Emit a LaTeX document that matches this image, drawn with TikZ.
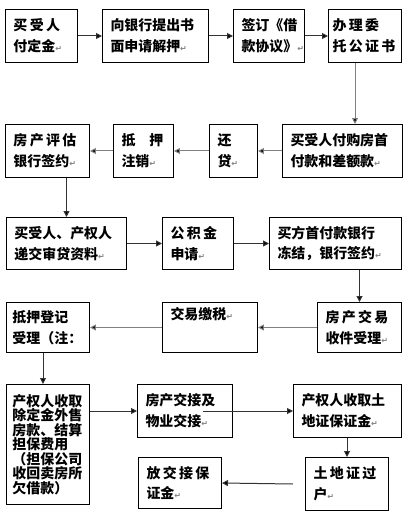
\documentclass[tikz,border=0pt]{standalone}
\usepackage{xcolor}
\usepackage{tikz}
\usetikzlibrary{arrows.meta}
\usepackage{fontspec}
\newfontfamily\cjk{Noto Sans CJK SC}
\newfontfamily\dejavu{DejaVu Sans}
\newcommand\parmark{{\dejavu\color{gray}\fontsize{8}{8}\selectfont ↵}}
\tikzset{
  box/.style={draw, line width=1pt, anchor=north west, align=left, inner xsep=8bp, inner ysep=0pt,
    font=\cjk\bfseries\fontsize{14}{21}\selectfont},
  arr/.style={line width=1pt, draw=black!80, -{Triangle[length=6pt,width=6pt,fill=black]}},
  garr/.style={arr, draw=black!50}
}
\begin{document}
\begin{tikzpicture}[x=1bp, y=-1bp]
    \useasboundingbox (0,0) rectangle (405,515);
    \node[box, text width=56bp, minimum height=53bp] (buyer) at (5,9) {买\,受\,人\\付定金\parmark};
    \node[box, text width=90bp, minimum height=53bp] (apply) at (102,9) {向银行提出书\\面申请解押\parmark};
    \node[box, text width=55bp, minimum height=53bp] (loan) at (233,9) {签订《借\\款协议》\parmark};
    \node[box, text width=65bp, inner xsep=4bp, minimum height=53bp] (notary) at (328,9) {办\,理\,委\\托\,公\,证\,书};
    \node[box, text width=68bp, minimum height=53bp] (assess) at (5,124) {房\,产\,评\,估\\银行签约\parmark};
    \node[box, text width=44bp, minimum height=53bp] (cancel) at (113,124) {抵\quad 押\\注销\parmark};
    \node[box, text width=32bp, minimum height=53bp] (repay) at (209,124) {还\\贷\parmark};
    \node[box, text width=104bp, minimum height=53bp] (downpay) at (282,124) {买受人付购房首\\付款和差额款\parmark};
    \node[box, text width=104bp, minimum height=52bp] (docs) at (6,217) {买受人、产权人\\递交审贷资料\parmark};
    \node[box, text width=55bp, minimum height=52bp] (fund) at (162,217) {公\,积\,金\\申请\parmark};
    \node[box, text width=116bp, minimum height=52bp] (freeze) at (269,217) {买方首付款银行\\冻结，银行签约\parmark};
    \node[box, text width=71bp, inner xsep=6bp, minimum height=50bp] (mortgage) at (6,302) {抵押登记\\受理（注：};
    \node[box, text width=79bp, minimum height=50bp] (tax) at (162,302) {交易缴税\parmark\\\strut};
    \node[box, text width=68bp, minimum height=50bp] (receipt) at (317,302) {房\,产\,交\,易\\收件受理\parmark};
    \node[box, text width=71bp, inner xsep=6bp, minimum height=120bp,
      font=\cjk\bfseries\fontsize{14}{13}\selectfont] (seller) at (6,384)
      {产权人收取\\除定金外售\\房款、结算\\担保费用\\（担保公司\\收回卖房所\\欠借款）};
    \node[box, text width=79bp, minimum height=53bp] (handover) at (137,384) {房产交接及\\物业交接\parmark};
    \node[box, text width=92bp, minimum height=53bp] (deposit) at (293,384) {产权人收取土\\地证保证金\parmark};
    \node[box, text width=67bp, minimum height=53bp] (transfer) at (305,457) {土\,地\,证\,过\\户\parmark};
    \node[box, text width=67bp, minimum height=51bp] (release) at (138,457) {放\,交\,接\,保\\证金\parmark};
    \coordinate (tstart) at ([xshift=-12bp]transfer.west);
    \draw[arr] (buyer.east) -- (apply.west);
    \draw[arr] (apply.east) -- (loan.west);
    \draw[arr] (loan.east) -- (notary.west);
    \draw[garr] ([xshift=-10bp]notary.south) -- ([xshift=-10bp]notary.south |- downpay.north);
    \draw[garr] (downpay.west) -- (repay.east);
    \draw[garr] (repay.west) -- (cancel.east);
    \draw[garr] (cancel.west) -- (assess.east);
    \draw[arr] (docs.north |- assess.south) -- (docs.north);
    \draw[arr] (docs.east) -- (fund.west);
    \draw[arr] (fund.east) -- (freeze.west);
    \draw[arr] (receipt.north |- freeze.south) -- (receipt.north);
    \draw[garr] (receipt.west) -- (tax.east);
    \draw[garr] (tax.west) -- (mortgage.east);
    \draw[arr] ([xshift=-5bp]mortgage.south) -- ([xshift=-5bp]seller.north);
    \draw[arr] (handover.west -| seller.east) -- (handover.west);
    \draw[arr] ([xshift=-30bp]handover.east) -- (deposit.west);
    \draw[arr] (deposit.south -| transfer.north) -- (transfer.north);
    \draw[arr] (tstart) -- (release.east);
\end{tikzpicture}
\end{document}
